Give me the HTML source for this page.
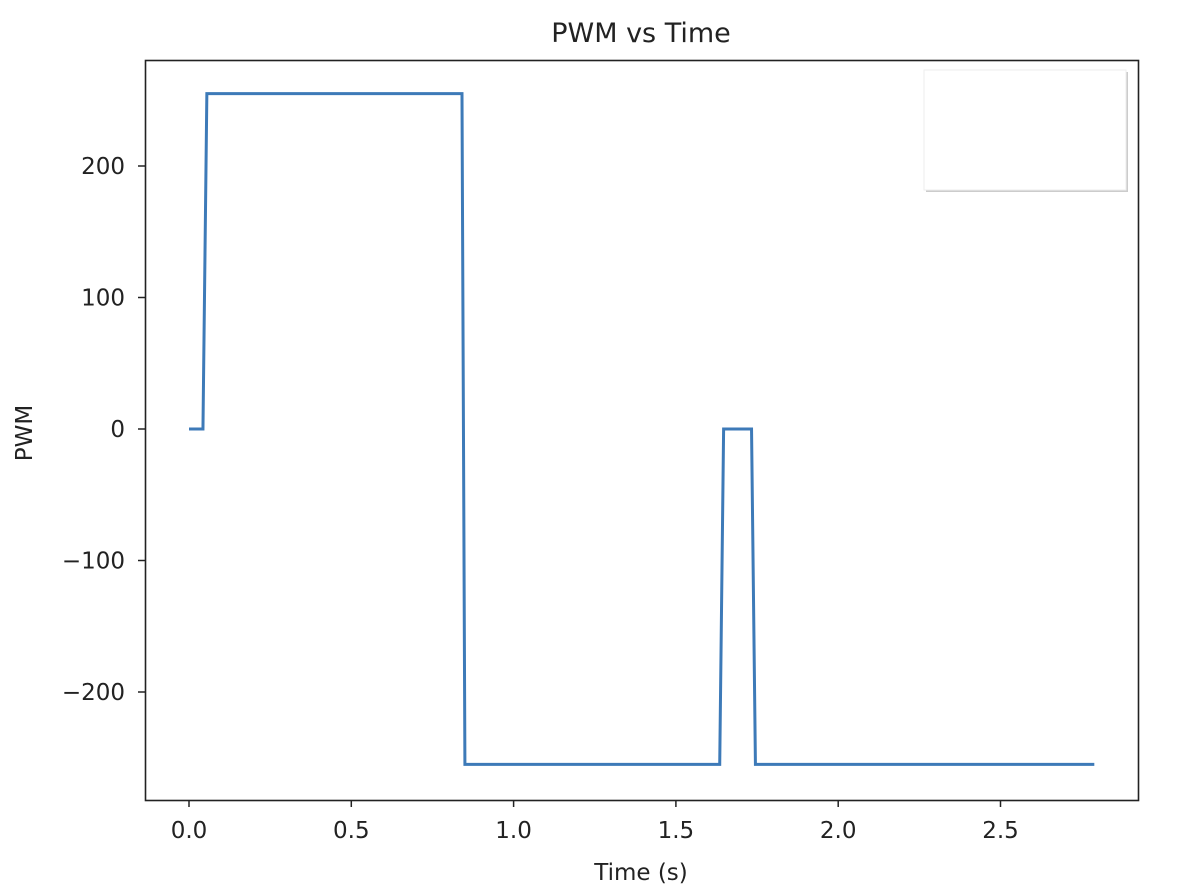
<!DOCTYPE html>
<html><head><meta charset="utf-8"><style>
body{margin:0;background:#fff;}
svg{display:block;font-family:"DejaVu Sans","Liberation Sans",sans-serif;}
</style></head><body>
<svg id="chart" width="1188" height="895">
<g id="ticks"></g>
<g id="series"></g>
<rect x="145.5" y="60.5" width="993" height="740" fill="none" stroke="#222" stroke-width="1.6"/>
<rect x="926" y="72" width="202" height="120" fill="#ccc"/>
<rect x="924" y="70" width="202" height="120" fill="#fff" stroke="#eee" stroke-width="1"/>
<text x="641" y="42" text-anchor="middle" font-size="27" fill="#222">PWM vs Time</text>
<text x="641" y="880" text-anchor="middle" font-size="23" fill="#222">Time (s)</text>
<text transform="translate(32,433) rotate(-90)" text-anchor="middle" font-size="23" fill="#222">PWM</text>
</svg>
<script>
const times=[0,0.043,0.055,0.841,0.85,1.635,1.647,1.733,1.745,2.789];
const pwm=[0,0,255,255,-255,-255,0,0,-255,-255];
const xTicks=[0,0.5,1,1.5,2,2.5];
const xTickLabels=["0.0","0.5","1.0","1.5","2.0","2.5"];
const yTicks=[200,100,0,-100,-200];
const yTickLabels=["200","100","0","\u2212100","\u2212200"];
const NS="http://www.w3.org/2000/svg";
function xs(t){return 189+t*324.6;}
function ys(v){return 429-v*1.315;}
const tg=document.getElementById('ticks');
xTicks.forEach((t,i)=>{
 const l=document.createElementNS(NS,'line');
 l.setAttribute('x1',xs(t));l.setAttribute('x2',xs(t));l.setAttribute('y1',800);l.setAttribute('y2',807);
 l.setAttribute('stroke','#222');l.setAttribute('stroke-width','1.5');
 
 
 tg.appendChild(l);
 const tx=document.createElementNS(NS,'text');
 tx.setAttribute('x',xs(t));tx.setAttribute('y',838);tx.setAttribute('text-anchor','middle');
 tx.setAttribute('font-size','23');tx.setAttribute('fill','#222');tx.textContent=xTickLabels[i];
 
 
 tg.appendChild(tx);
});
yTicks.forEach((v,i)=>{
 const l=document.createElementNS(NS,'line');
 l.setAttribute('x1',138);l.setAttribute('x2',145);l.setAttribute('y1',ys(v));l.setAttribute('y2',ys(v));
 l.setAttribute('stroke','#222');l.setAttribute('stroke-width','1.5');
 
 
 tg.appendChild(l);
 const tx=document.createElementNS(NS,'text');
 tx.setAttribute('x',125);tx.setAttribute('y',ys(v)+8);tx.setAttribute('text-anchor','end');
 tx.setAttribute('font-size','23');tx.setAttribute('fill','#222');tx.textContent=yTickLabels[i];
 
 
 tg.appendChild(tx);
});
const p=document.createElementNS(NS,'polyline');
p.setAttribute('points',times.map((t,i)=>xs(t)+','+ys(pwm[i])).join(' '));
p.setAttribute('fill','none');p.setAttribute('stroke','#3d7ab8');p.setAttribute('stroke-width','3');


document.getElementById('series').appendChild(p);
</script>
</body></html>
